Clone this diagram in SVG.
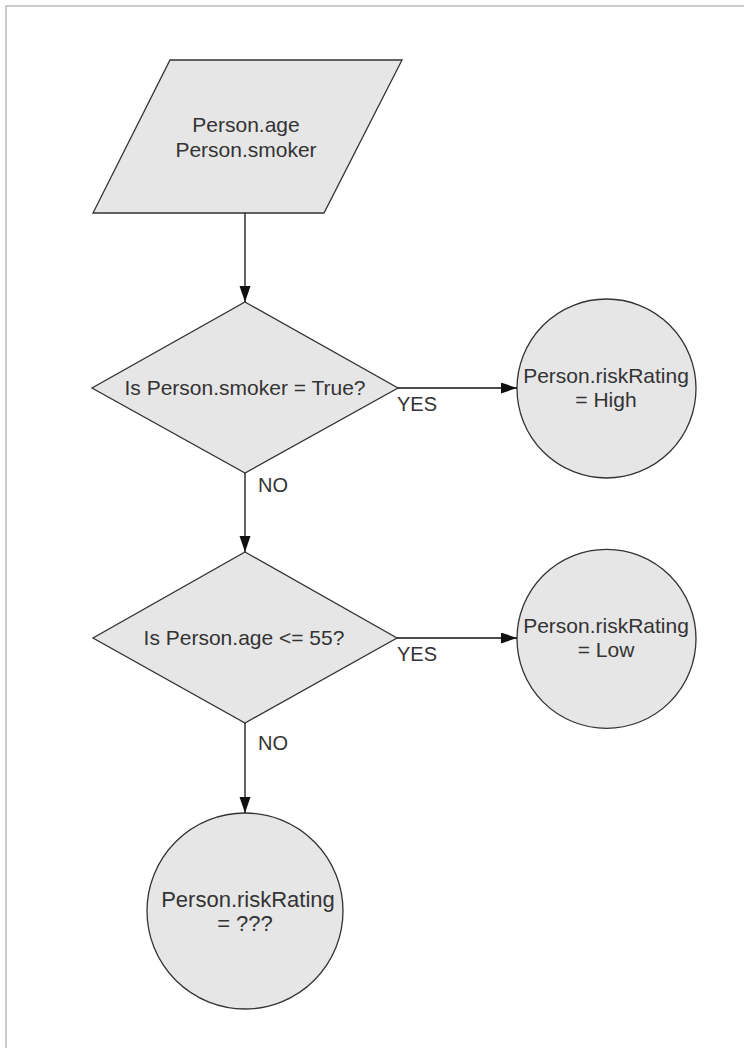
<svg xmlns="http://www.w3.org/2000/svg" width="744" height="1048" viewBox="0 0 744 1048">
<style>
.shape{fill:#e6e6e6;stroke:#333;stroke-width:1.3}
.t{font-family:"Liberation Sans",Arial,sans-serif;font-size:21px;fill:#333;text-anchor:middle}
.lbl{font-family:"Liberation Sans",Arial,sans-serif;font-size:20px;fill:#333}
.conn{stroke:#111;stroke-width:1.3;fill:none}
</style>
<defs>
<marker id="arr" markerUnits="userSpaceOnUse" markerWidth="17" markerHeight="12" refX="16" refY="5.5" orient="auto">
<path d="M0,0 L16,5.5 L0,11 z" fill="#111"/>
</marker>
</defs>
<rect x="0" y="0" width="744" height="1048" fill="#fff"/>
<path d="M6,1048 L6,6 L744,6" fill="none" stroke="#bbb" stroke-width="1.5"/>
<g id="input">
<polygon class="shape" points="170,60 402,60 324,213 93,213"/>
<text class="t" x="246" y="132">Person.age</text>
<text class="t" x="246" y="157">Person.smoker</text>
</g>
<g id="decision1">
<polygon class="shape" points="245,302 398,388 245,473 92,388"/>
<text class="t" x="245" y="395">Is Person.smoker = True?</text>
</g>
<g id="high">
<circle class="shape" cx="606.5" cy="388.5" r="89.5"/>
<text class="t" x="606" y="383">Person.riskRating</text>
<text class="t" x="606" y="407">= High</text>
</g>
<g id="decision2">
<polygon class="shape" points="245,552 397,638 245,723 93,638"/>
<text class="t" x="244" y="645">Is Person.age &lt;= 55?</text>
</g>
<g id="low">
<circle class="shape" cx="606.5" cy="638.8" r="89.5"/>
<text class="t" x="606" y="633">Person.riskRating</text>
<text class="t" x="606" y="657">= Low</text>
</g>
<g id="unknown">
<circle class="shape" cx="245" cy="911" r="98"/>
<text class="t" x="248" y="907" style="font-size:22px">Person.riskRating</text>
<text class="t" x="245" y="931" style="font-size:22px">= ???</text>
</g>
<g id="connectors">
<line class="conn" x1="245" y1="213" x2="245" y2="302" marker-end="url(#arr)"/>
<line class="conn" x1="398" y1="388" x2="517" y2="388" marker-end="url(#arr)"/>
<line class="conn" x1="245" y1="473" x2="245" y2="552" marker-end="url(#arr)"/>
<line class="conn" x1="397" y1="638" x2="517" y2="638" marker-end="url(#arr)"/>
<line class="conn" x1="245" y1="723" x2="245" y2="813" marker-end="url(#arr)"/>
<text class="lbl" x="397" y="411">YES</text>
<text class="lbl" x="258" y="492">NO</text>
<text class="lbl" x="397" y="661">YES</text>
<text class="lbl" x="258" y="750">NO</text>
</g>
</svg>
